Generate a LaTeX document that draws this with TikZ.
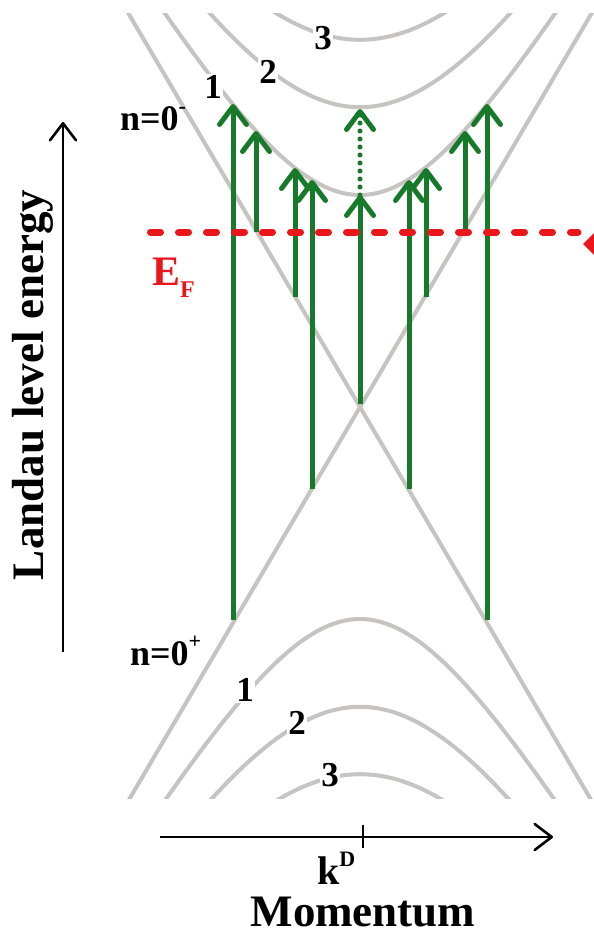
\documentclass[tikz,border=0pt]{standalone}
\usepackage{fontspec}
\setmainfont{Liberation Serif}
\usetikzlibrary{arrows.meta}
\definecolor{lvl}{RGB}{198,195,192}
\definecolor{grn}{RGB}{22,122,42}
\definecolor{fred}{RGB}{235,22,28}
\begin{document}
\begin{tikzpicture}[x=1pt,y=-1pt,
  level/.style={draw=lvl, line width=4pt},
  trans/.style={draw=grn, line width=5pt, -{Straight Barb[length=18pt,width=27pt,round]}},
  dottrans/.style={draw=grn, line width=5pt, line cap=round, dash pattern=on 0pt off 8pt, -{Straight Barb[length=18pt,width=27pt,round]}},
  axisline/.style={draw=black, line width=2.6pt, -{Straight Barb[length=17pt,width=26pt,round]}},
  lvllab/.style={fill=white, inner sep=1pt, font=\fontsize{35}{40}\selectfont\bfseries},
  nlab/.style={inner sep=0pt, anchor=base west, font=\fontsize{36}{40}\selectfont\bfseries},
  biglab/.style={inner sep=0pt, anchor=base, font=\fontsize{45}{50}\selectfont\bfseries}]
\useasboundingbox (0,0) rectangle (594,937);
\fill[white] (0,0) rectangle (594,937);

% Landau levels
\begin{scope}
\clip (0,13) rectangle (594,798);
\draw[level] (124.7,7) -- (595.3,807);
\draw[level] (595.3,7) -- (124.7,807);
\foreach \e in {21.2,29.98,36.72}{
  \draw[level] plot[domain=-245:245, samples=121] ({360+\x},{407-10*sqrt((0.17*\x)^2+\e^2)});
  \draw[level] plot[domain=-245:245, samples=121] ({360+\x},{407+10*sqrt((0.17*\x)^2+\e^2)});
}
\end{scope}

% level labels
\node[lvllab] (u1) at (213,87) {1};
\node[lvllab] (u2) at (268,72) {2};
\node[lvllab] (u3) at (323,38) {3};
\node[lvllab] (l1) at (245,690) {1};
\node[lvllab] (l2) at (297,723) {2};
\node[lvllab] (l3) at (330,775) {3};
\node[nlab] (nminus) at (120,130) {n=0\raisebox{17pt}{\fontsize{22}{22}\selectfont -}};
\node[nlab] (nplus) at (130,665) {n=0\raisebox{17pt}{\fontsize{22}{22}\selectfont +}};

% transition end points
\coordinate (a1b) at (233,620);  \coordinate (a1t) at (233,104);
\coordinate (a2b) at (256,232);  \coordinate (a2t) at (256,131);
\coordinate (a3b) at (295,297);  \coordinate (a3t) at (295,168);
\coordinate (a4b) at (312,489);  \coordinate (a4t) at (312,180);
\coordinate (a5b) at (360,404);  \coordinate (a5t) at (360,195);
\coordinate (a5d) at (360,109);
\coordinate (a6b) at (409,489);  \coordinate (a6t) at (409,180);
\coordinate (a7b) at (426,297);  \coordinate (a7t) at (426,168);
\coordinate (a8b) at (465,232);  \coordinate (a8t) at (465,131);
\coordinate (a9b) at (487,620);  \coordinate (a9t) at (487,104);

\foreach \i in {1,...,9}{ \draw[trans] (a\i b) -- (a\i t); }
\draw[dottrans] (a5t) -- (a5d);

% Fermi level
\coordinate (efl) at (150.5,232);
\coordinate (efr) at (578,232);
\draw[fred, line width=7pt, line cap=round, dash pattern=on 10pt off 18pt] (efl) -- (efr);
\fill[fred] (583,244) -- (596,231) -- (609,244) -- (596,257) -- cycle;
\node[inner sep=0pt, anchor=base west, text=fred, font=\fontsize{42}{46}\selectfont\bfseries] (ef) at (152,285) {E\raisebox{-12pt}{\fontsize{24}{24}\selectfont F}};

% axes
\coordinate (ybot) at (63,652);
\coordinate (ytop) at (63,122);
\draw[axisline] (ybot) -- (ytop);
\node[biglab, rotate=90] (ylab) at (43,385) {Landau level energy};

\coordinate (xl) at (160,837);
\coordinate (xr) at (553,837);
\draw[axisline] (xl) -- (xr);
\coordinate (tkt) at (363,825);
\coordinate (tkb) at (363,848);
\draw[black, line width=2.6pt] (tkt) -- (tkb);
\node[inner sep=0pt, anchor=base west, font=\fontsize{40}{44}\selectfont\bfseries] (kd) at (317,884) {k\raisebox{18pt}{\fontsize{22}{22}\selectfont D}};
\node[biglab] (mom) at (363,926) {Momentum};
\end{tikzpicture}
\end{document}
